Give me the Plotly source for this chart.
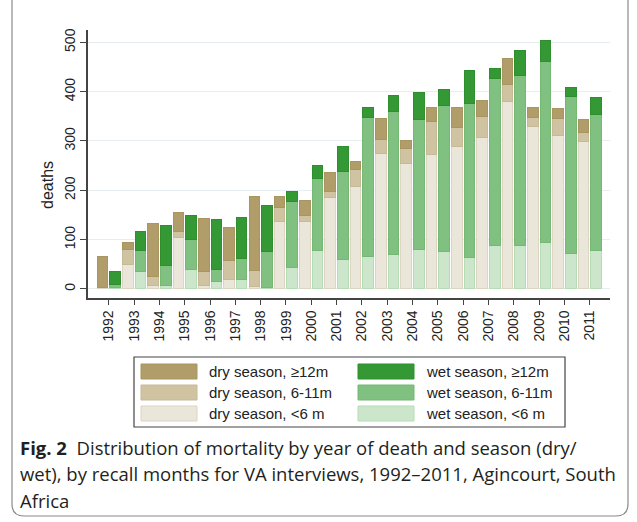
import plotly.graph_objects as go

years = list(range(1992, 2012))

dry_lt6 = [2, 49, 7, 105, 7, 19, 5, 137, 137, 185, 207, 275, 254, 273, 288, 307, 380, 329, 311, 299]
dry_6_11 = [1, 31, 19, 12, 28, 38, 33, 29, 12, 13, 35, 29, 31, 66, 39, 42, 34, 18, 35, 18]
dry_12 = [63, 15, 107, 38, 107, 68, 149, 22, 31, 38, 16, 41, 17, 29, 41, 33, 53, 21, 19, 26]

wet_lt6 = [4, 35, 8, 39, 16, 20, 3, 43, 79, 60, 66, 69, 80, 75, 64, 89, 89, 94, 71, 77]
wet_6_11 = [6, 42, 40, 61, 23, 41, 73, 134, 144, 178, 281, 290, 264, 296, 311, 337, 343, 368, 319, 276]
wet_12 = [25, 39, 80, 48, 101, 84, 94, 21, 27, 50, 20, 33, 55, 33, 67, 20, 51, 41, 18, 36]

y_ticks = [0, 100, 200, 300, 400, 500]

labels = {
    "dry12": "dry season, \u226512m",
    "dry6": "dry season, 6-11m",
    "dry0": "dry season, <6 m",
    "wet12": "wet season, \u226512m",
    "wet6": "wet season, 6-11m",
    "wet0": "wet season, <6 m",
}
fills = {
    "dry12": "#B09D69", "dry6": "#CFC3A1", "dry0": "#EBE6DA",
    "wet12": "#349934", "wet6": "#80C080", "wet0": "#CCE6CC",
}
edges = {
    "dry12": "#A8955F", "dry6": "#C6B995", "dry0": "#DDD5C4",
    "wet12": "#2F8F2F", "wet6": "#74B874", "wet0": "#B6DCB6",
}

x_dry = [y - 0.25 for y in years]
x_wet = [y + 0.25 for y in years]

fig = go.Figure()
series = [
    ("dry0", x_dry, dry_lt6), ("dry6", x_dry, dry_6_11), ("dry12", x_dry, dry_12),
    ("wet0", x_wet, wet_lt6), ("wet6", x_wet, wet_6_11), ("wet12", x_wet, wet_12),
]
for key, xs, vals in series:
    fig.add_trace(go.Bar(
        x=xs, y=vals, width=0.42, name=labels[key], showlegend=False,
        marker=dict(color=fills[key], line=dict(color=edges[key], width=1)),
    ))

L, R, T, B = 88, 27, 30, 224
W, H = 637, 522
PW, PH = W - L - R, H - T - B


def px(x):
    return (x - L) / PW


def py(y):
    return (H - B - y) / PH


shapes = []
annotations = []
AX_FONT = "Arial"

# outer rounded frame
x0, x1, y0, y1, r = 12, 628, -20, 516, 12
path = (f"M {px(x0)},{py(y0)} L {px(x0)},{py(y1 - r)} "
        f"Q {px(x0)},{py(y1)} {px(x0 + r)},{py(y1)} "
        f"L {px(x1 - r)},{py(y1)} Q {px(x1)},{py(y1)} {px(x1)},{py(y1 - r)} "
        f"L {px(x1)},{py(y0)}")
shapes.append(dict(type="path", xref="paper", yref="paper", path=path,
                   line=dict(color="#8a8a8a", width=1.2)))

# legend box
shapes.append(dict(type="rect", xref="paper", yref="paper",
                   x0=px(134), x1=px(565), y0=py(357), y1=py(427),
                   line=dict(color="#444444", width=1.2), fillcolor="white"))
rows = [("dry12", "wet12"), ("dry6", "wet6"), ("dry0", "wet0")]
row_tops = [364, 385, 406]
for (lk, rk), top in zip(rows, row_tops):
    for key, sx in ((lk, 141), (rk, 358)):
        shapes.append(dict(type="rect", xref="paper", yref="paper",
                           x0=px(sx), x1=px(sx + 56), y0=py(top), y1=py(top + 15),
                           fillcolor=fills[key], line=dict(color=edges[key], width=1)))
        annotations.append(dict(xref="paper", yref="paper", x=px(sx + 66), y=py(top + 7.5),
                                text=labels[key], showarrow=False, xanchor="left", yanchor="middle",
                                font=dict(family=AX_FONT, size=15, color="#222222")))

# y axis title
annotations.append(dict(xref="paper", yref="paper", x=px(47), y=py(185), text="deaths",
                        textangle=-90, showarrow=False, xanchor="center", yanchor="middle",
                        font=dict(family=AX_FONT, size=16, color="#222222")))

# caption
cap_font = dict(family="Open Sans", size=18.5, color="#231f20")
cap_lines = [
    "<b>Fig. 2</b>  Distribution of mortality by year of death and season (dry/",
    "wet), by recall months for VA interviews, 1992\u20132011, Agincourt, South",
    "Africa",
]
for i, line in enumerate(cap_lines):
    annotations.append(dict(xref="paper", yref="paper", x=px(18), y=py(447 + 26.5 * i),
                            text=line, showarrow=False, xanchor="left", yanchor="middle",
                            font=cap_font))

fig.update_layout(
    width=W, height=H,
    margin=dict(l=L, r=R, t=T, b=B, pad=0, autoexpand=False),
    paper_bgcolor="white", plot_bgcolor="white",
    barmode="stack",
    shapes=shapes, annotations=annotations,
    xaxis=dict(
        range=[1991.18, 2011.80], tickmode="array", tickvals=years,
        ticktext=[str(y) for y in years], tickangle=-90, automargin=False,
        ticks="outside", ticklen=5, tickcolor="#444444", tickwidth=1.2,
        showline=True, linecolor="#444444", linewidth=1.5,
        showgrid=False, zeroline=False,
        tickfont=dict(family=AX_FONT, size=14, color="#222222"),
    ),
    yaxis=dict(
        range=[-18.3, 525], tickmode="array", tickvals=y_ticks, automargin=False,
        tickangle=-90, ticks="outside", ticklen=6, tickcolor="#444444", tickwidth=1.2,
        showline=True, linecolor="#444444", linewidth=1.5,
        showgrid=True, gridcolor="#E6EEF1", gridwidth=1.3, zeroline=False,
        tickfont=dict(family=AX_FONT, size=14, color="#222222"),
    ),
)

fig.write_html("out.html", config={"displayModeBar": False},
               post_script="document.body.style.margin='0';")
